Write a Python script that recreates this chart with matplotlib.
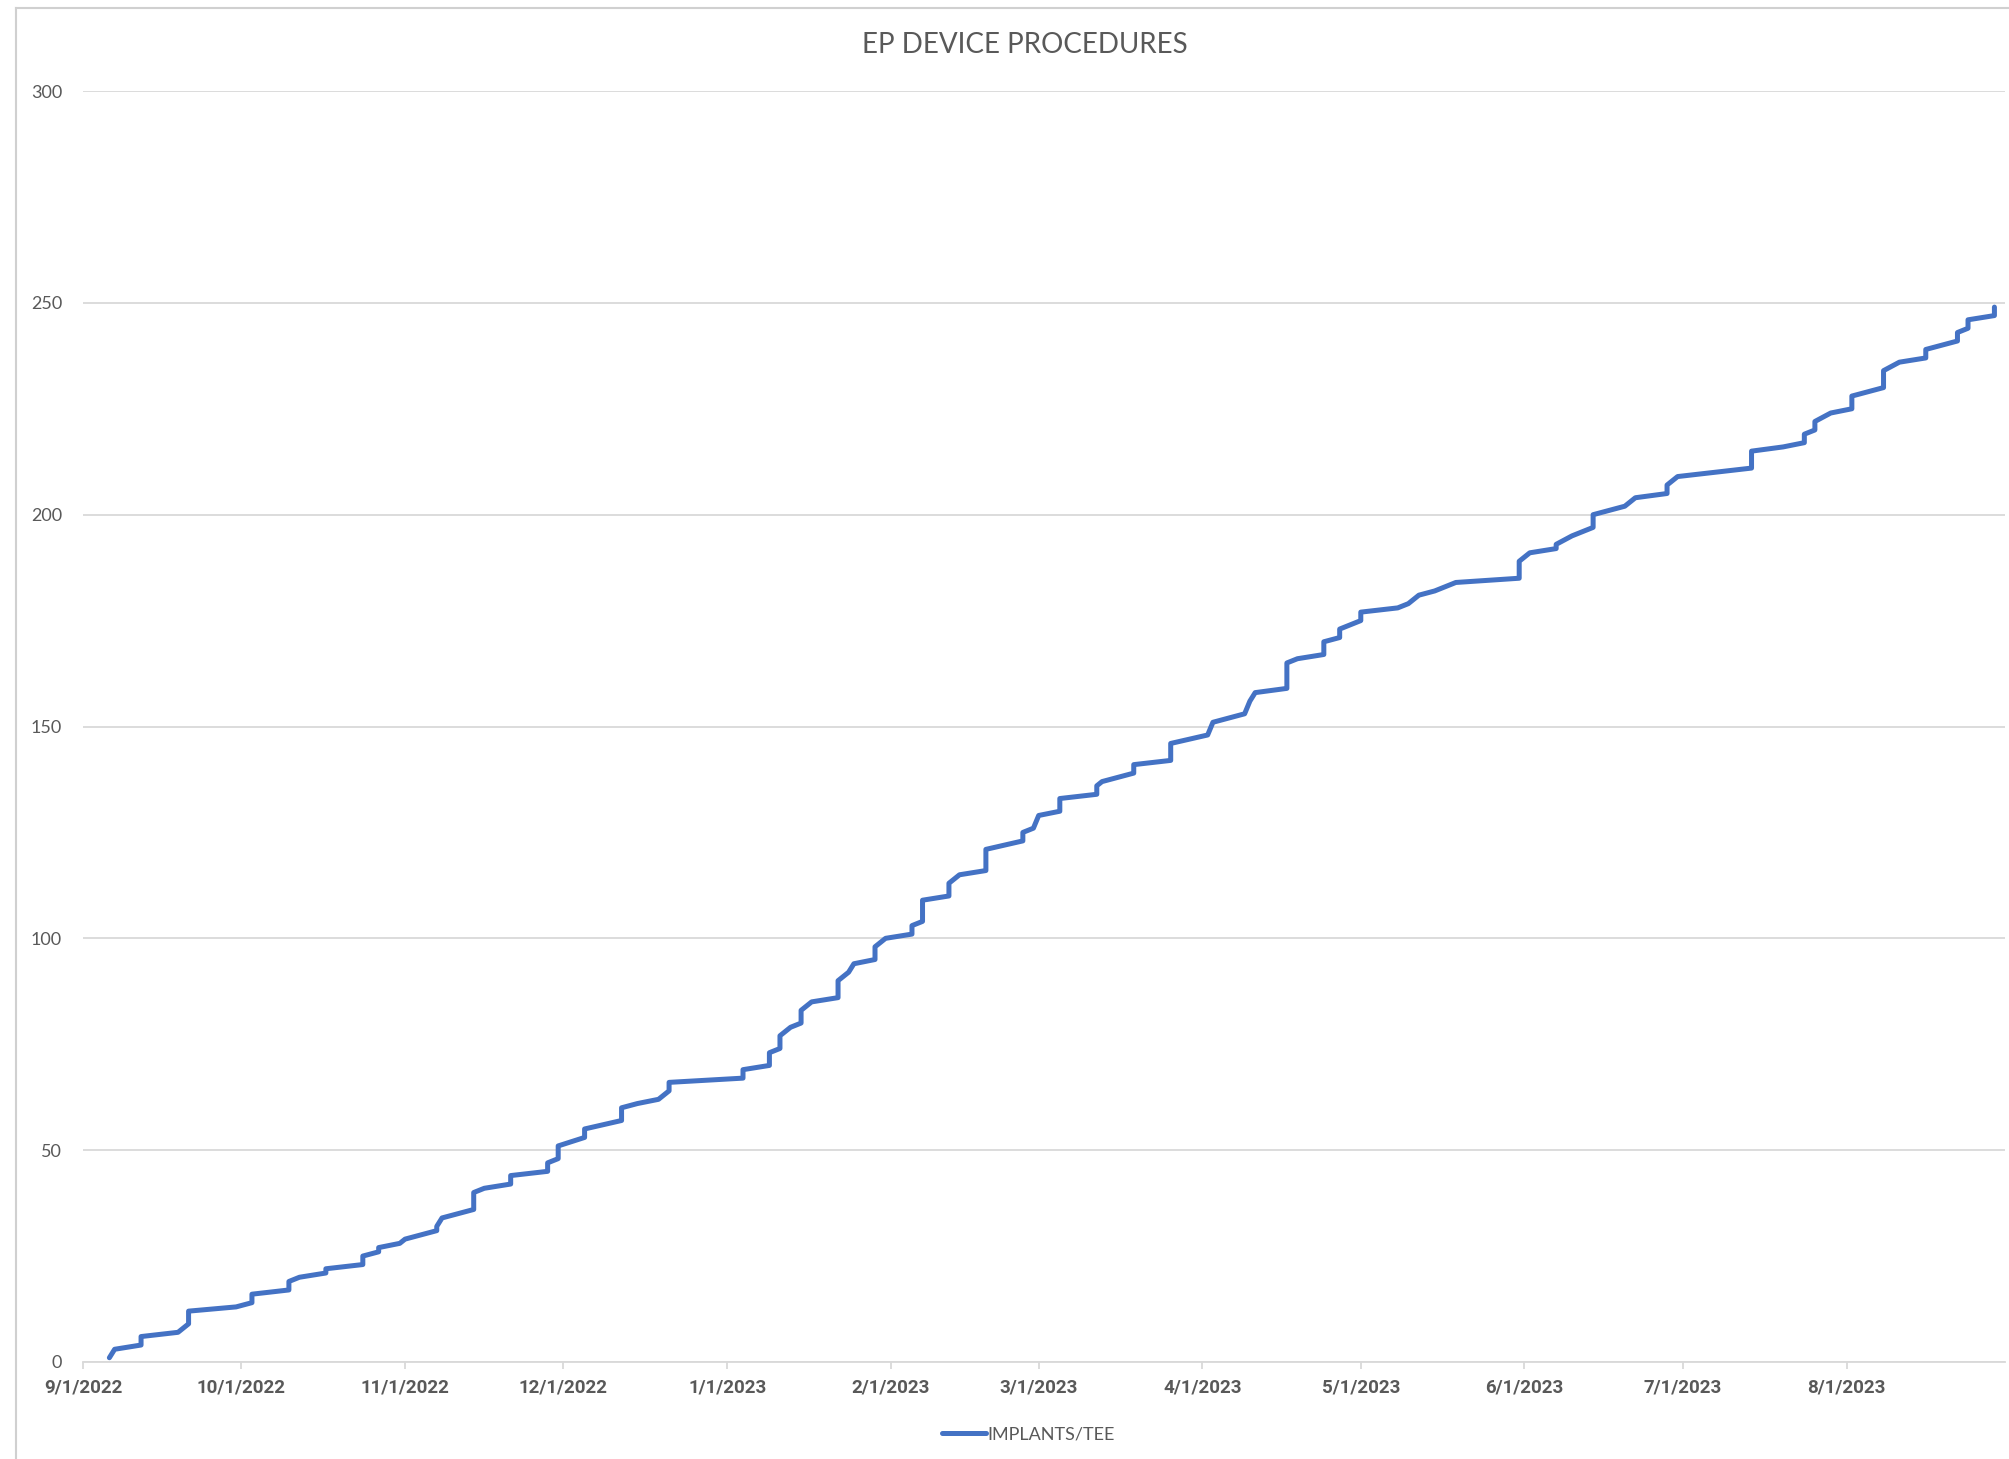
import pandas as pd
import matplotlib
matplotlib.use("Agg")
import matplotlib.pyplot as plt
import matplotlib.dates as mdates
from matplotlib.lines import Line2D

# running total of procedures; a repeated date means several cases that day
proc_dates = [
    "2022-09-06", "2022-09-07", "2022-09-12", "2022-09-12", "2022-09-19", "2022-09-20",
    "2022-09-21", "2022-09-21", "2022-09-30", "2022-10-03", "2022-10-03", "2022-10-10",
    "2022-10-10", "2022-10-12", "2022-10-17", "2022-10-17", "2022-10-24", "2022-10-24",
    "2022-10-27", "2022-10-27", "2022-10-31", "2022-11-01", "2022-11-07", "2022-11-07",
    "2022-11-08", "2022-11-14", "2022-11-14", "2022-11-16", "2022-11-21", "2022-11-21",
    "2022-11-28", "2022-11-28", "2022-11-30", "2022-11-30", "2022-12-05", "2022-12-05",
    "2022-12-12", "2022-12-12", "2022-12-15", "2022-12-19", "2022-12-21", "2022-12-21",
    "2023-01-04", "2023-01-04", "2023-01-09", "2023-01-09", "2023-01-11", "2023-01-11",
    "2023-01-13", "2023-01-15", "2023-01-15", "2023-01-17", "2023-01-22", "2023-01-22",
    "2023-01-24", "2023-01-25", "2023-01-29", "2023-01-29", "2023-01-31", "2023-02-05",
    "2023-02-05", "2023-02-07", "2023-02-07", "2023-02-12", "2023-02-12", "2023-02-14",
    "2023-02-19", "2023-02-19", "2023-02-26", "2023-02-26", "2023-02-28", "2023-03-01",
    "2023-03-05", "2023-03-05", "2023-03-12", "2023-03-12", "2023-03-13", "2023-03-19",
    "2023-03-19", "2023-03-26", "2023-03-26", "2023-04-02", "2023-04-03", "2023-04-09",
    "2023-04-10", "2023-04-11", "2023-04-17", "2023-04-17", "2023-04-19", "2023-04-24",
    "2023-04-24", "2023-04-27", "2023-04-27", "2023-05-01", "2023-05-01", "2023-05-08",
    "2023-05-10", "2023-05-12", "2023-05-15", "2023-05-19", "2023-05-31", "2023-05-31",
    "2023-06-02", "2023-06-07", "2023-06-07", "2023-06-10", "2023-06-14", "2023-06-14",
    "2023-06-20", "2023-06-22", "2023-06-28", "2023-06-28", "2023-06-30", "2023-07-14",
    "2023-07-14", "2023-07-20", "2023-07-24", "2023-07-24", "2023-07-26", "2023-07-26",
    "2023-07-29", "2023-08-02", "2023-08-02", "2023-08-08", "2023-08-08", "2023-08-11",
    "2023-08-16", "2023-08-16", "2023-08-22", "2023-08-22", "2023-08-24", "2023-08-24",
    "2023-08-29", "2023-08-29",
]
running_total = [
    1, 3, 4, 6, 7, 8,
    9, 12, 13, 14, 16, 17,
    19, 20, 21, 22, 23, 25,
    26, 27, 28, 29, 31, 32,
    34, 36, 40, 41, 42, 44,
    45, 47, 48, 51, 53, 55,
    57, 60, 61, 62, 64, 66,
    67, 69, 70, 73, 74, 77,
    79, 80, 83, 85, 86, 90,
    92, 94, 95, 98, 100, 101,
    103, 104, 109, 110, 113, 115,
    116, 121, 123, 125, 126, 129,
    130, 133, 134, 136, 137, 139,
    141, 142, 146, 148, 151, 153,
    156, 158, 159, 165, 166, 167,
    170, 171, 173, 175, 177, 178,
    179, 181, 182, 184, 185, 189,
    191, 192, 193, 195, 197, 200,
    202, 204, 205, 207, 209, 211,
    215, 216, 217, 219, 220, 222,
    224, 225, 228, 230, 234, 236,
    237, 239, 241, 243, 244, 246,
    247, 249,
]
series_name = "IMPLANTS/TEE"
month_ticks = pd.date_range("2022-09-01", "2023-08-01", freq="MS")

x = pd.to_datetime(proc_dates)

font = ["Lato", "DejaVu Sans"]
bold_font = ["Roboto", "DejaVu Sans"]

fig = plt.figure(figsize=(20.09, 14.59), dpi=100)
ax = fig.add_axes([0.0413, 0.0665, 0.9567, 0.8711])

ax.plot(x, running_total, color="#4472C4", linewidth=3.6, solid_joinstyle="round",
        solid_capstyle="round", label=series_name)

ax.set_xlim(pd.Timestamp("2022-09-01"), pd.Timestamp("2023-08-31"))
ax.set_ylim(0, 300)
ax.set_yticks(range(0, 301, 50))
ax.set_xticks(month_ticks)
ax.xaxis.set_major_formatter(
    plt.FuncFormatter(lambda v, p: "{d.month}/{d.day}/{d.year}".format(d=mdates.num2date(v))))

ax.grid(axis="y", color="#d9d9d9", linewidth=1.3)
ax.set_axisbelow(True)
for s in ["top", "right", "left"]:
    ax.spines[s].set_visible(False)
ax.spines["bottom"].set_color("#d9d9d9")
ax.spines["bottom"].set_linewidth(1.3)
ax.tick_params(axis="y", length=0, pad=15, labelsize=13, labelcolor="#595959")
ax.tick_params(axis="x", length=5, width=1.3, color="#d9d9d9", pad=7, labelsize=13.5,
               labelcolor="#595959")
for lab in ax.get_yticklabels():
    lab.set_family(font)
for lab in ax.get_xticklabels():
    lab.set_family(bold_font)
    lab.set_fontweight("bold")

fig.text(0.51, 0.969, "EP DEVICE PROCEDURES", ha="center", va="center", fontsize=20,
         color="#595959", family=font)

leg = fig.legend(loc="center", bbox_to_anchor=(0.512, 0.017), frameon=False,
                 handlelength=2.4, handletextpad=0.1, prop={"family": font, "size": 13})
for t in leg.get_texts():
    t.set_color("#595959")

# chart area border (left and top edges visible)
fig.add_artist(Line2D([16 / 2009, 16 / 2009], [0, 1 - 7.5 / 1459], transform=fig.transFigure,
                      color="#d0d0d0", linewidth=1.5))
fig.add_artist(Line2D([16 / 2009, 1], [1 - 7.5 / 1459, 1 - 7.5 / 1459], transform=fig.transFigure,
                      color="#d0d0d0", linewidth=1.5))

fig.savefig("out.png", dpi=100)
